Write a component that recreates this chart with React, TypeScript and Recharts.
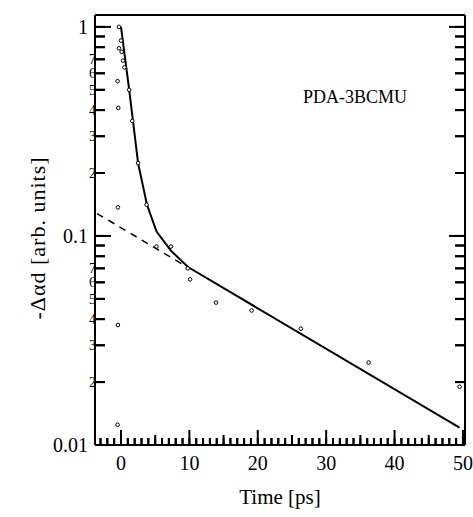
import { ComposedChart, XAxis, YAxis, Line, Scatter } from 'recharts';

// measured points (ps, arb. units)
const measuredTime = [-0.3, 0, -0.3, 0.1, 0.3, 0.5, -0.5, -0.4, 1.2, 1.65, 2.5, -0.45, 3.75, 5.2, 7.3, 9.75, 10.1, -0.45, -0.5, 13.9, 19.1, 26.3, 36.2, 49.5];
const measuredSignal = [1.0, 0.86, 0.79, 0.76, 0.69, 0.64, 0.55, 0.41, 0.5, 0.355, 0.223, 0.137, 0.141, 0.089, 0.089, 0.07, 0.062, 0.0375, 0.0125, 0.048, 0.044, 0.036, 0.0248, 0.019];

// biexponential fit
const fitTime = [0, 1.2, 2.5, 3.8, 5.2, 7.3, 9.8, 49.5];
const fitSignal = [1.0, 0.5, 0.223, 0.141, 0.105, 0.085, 0.071, 0.0121];

// slow component alone
const slowTime = [-3.5, 10];
const slowSignal = [0.128, 0.07];

const timeTicks = [-3, -2, -1, 0, 1, 2, 3, 4, 5, 6, 7, 8, 9, 10, 11, 12, 13, 14, 15, 16, 17, 18, 19, 20, 21, 22, 23, 24, 25, 26, 27, 28, 29, 30, 31, 32, 33, 34, 35, 36, 37, 38, 39, 40, 41, 42, 43, 44, 45, 46, 47, 48, 49, 50];
const signalTicks = [0.01, 0.02, 0.03, 0.04, 0.05, 0.06, 0.07, 0.08, 0.09, 0.1, 0.2, 0.3, 0.4, 0.5, 0.6, 0.7, 0.8, 0.9, 1];

const measured = measuredTime.map((t, i) => ({ t, v: measuredSignal[i] }));
const fit = fitTime.map((t, i) => ({ t, v: fitSignal[i] }));
const slow = slowTime.map((t, i) => ({ t, v: slowSignal[i] }));

const tickStroke = { stroke: '#000', strokeWidth: 2 };
const frame = { stroke: '#000', strokeWidth: 2 };

function digitOf(v: number) {
  return Math.round(v / Math.pow(10, Math.floor(Math.log10(v) + 1e-9)));
}

function sizeOfTime(t: number) {
  if (t % 10 === 0) return 15;
  if (t % 5 === 0) return 10;
  return 7;
}

function LeftTick(props: any) {
  const { y, payload } = props;
  const v = payload.value;
  const d = digitOf(v);
  let label = null;
  if (d === 1) {
    label = (
      <text x={88} y={y + 7} textAnchor="end" fontSize={20} fill="#000">
        {v === 1 ? '1' : v === 0.1 ? '0.1' : '0.01'}
      </text>
    );
  } else if (d >= 2 && d <= 7) {
    label = (
      <text x={96} y={y + 5} textAnchor="end" fontSize={14} fill="#000">
        {String(d)}
      </text>
    );
  }
  return (
    <g>
      <path d={`M95,${y}H${d === 1 ? 111 : 105}`} stroke="#000" strokeWidth={2} fill="none" />
      {label}
    </g>
  );
}

function RightTick(props: any) {
  const { y, payload } = props;
  const d = digitOf(payload.value);
  return (
    <g>
      <path d={`M465,${y}H${d === 1 ? 449 : 455}`} stroke="#000" strokeWidth={2} fill="none" />
    </g>
  );
}

function BottomTick(props: any) {
  const { x, payload } = props;
  const t = payload.value;
  return (
    <g>
      <path d={`M${x},445V${445 - sizeOfTime(t)}`} stroke="#000" strokeWidth={2} fill="none" />
      {t % 10 === 0 ? (
        <text x={x} y={470} textAnchor="middle" fontSize={20} fill="#000">
          {String(t)}
        </text>
      ) : null}
    </g>
  );
}

function TopTick(props: any) {
  const { x, payload } = props;
  return (
    <g>
      <path d={`M${x},15V${15 + sizeOfTime(payload.value)}`} stroke="#000" strokeWidth={2} fill="none" />
    </g>
  );
}

function Dot(props: any) {
  const { cx, cy } = props;
  return <circle cx={cx} cy={cy} r={1.8} fill="#fff" stroke="#000" strokeWidth={1} />;
}

export default function App() {
  return (
    <div style={{ position: 'absolute', left: 0, top: 0, width: 473, height: 517, background: '#fff' }}>
      <ComposedChart width={473} height={517} margin={{ top: 14, right: 7, bottom: 32, left: 35 }}>
        <XAxis xAxisId="b" dataKey="t" type="number" domain={[-3.8, 50.3]} allowDataOverflow ticks={timeTicks} interval={0} height={40} tickSize={-7} tickLine={tickStroke} tick={<BottomTick />} axisLine={frame} />
        <XAxis xAxisId="t" orientation="top" type="number" domain={[-3.8, 50.3]} allowDataOverflow ticks={timeTicks} interval={0} height={1} tickSize={-7} tickLine={tickStroke} tick={<TopTick />} axisLine={frame} />
        <YAxis yAxisId="l" dataKey="v" scale="log" type="number" domain={[0.01, 1.14]} allowDataOverflow ticks={signalTicks} interval={0} width={60} tickSize={-10} tickLine={tickStroke} tick={<LeftTick />} axisLine={frame} />
        <YAxis yAxisId="r" orientation="right" scale="log" type="number" domain={[0.01, 1.14]} allowDataOverflow ticks={signalTicks} interval={0} width={1} tickSize={-10} tickLine={tickStroke} tick={<RightTick />} axisLine={frame} />
        <Line xAxisId="b" yAxisId="l" data={slow} dataKey="v" type="linear" stroke="#000" strokeWidth={1.5} strokeDasharray="7 6" dot={false} isAnimationActive={false} />
        <Line xAxisId="b" yAxisId="l" data={fit} dataKey="v" type="linear" stroke="#000" strokeWidth={2} dot={false} isAnimationActive={false} />
        <Scatter xAxisId="b" yAxisId="l" data={measured} dataKey="v" shape={<Dot />} isAnimationActive={false} />
      </ComposedChart>
      <div style={{ position: 'absolute', left: 303, top: 86, fontSize: 18, lineHeight: '22px', color: '#000' }}>PDA-3BCMU</div>
      <div style={{ position: 'absolute', left: 95, width: 370, top: 484, textAlign: 'center', fontSize: 21, lineHeight: '26px', color: '#000' }}>
        Time [ps]
      </div>
      <div
        style={{
          position: 'absolute',
          left: 38,
          top: 238,
          transform: 'translate(-50%, -50%) rotate(-90deg)',
          whiteSpace: 'nowrap',
          fontSize: 22,
          letterSpacing: 1,
          lineHeight: '26px',
          color: '#000',
        }}
      >
        -Δαd [arb. units]
      </div>
    </div>
  );
}
